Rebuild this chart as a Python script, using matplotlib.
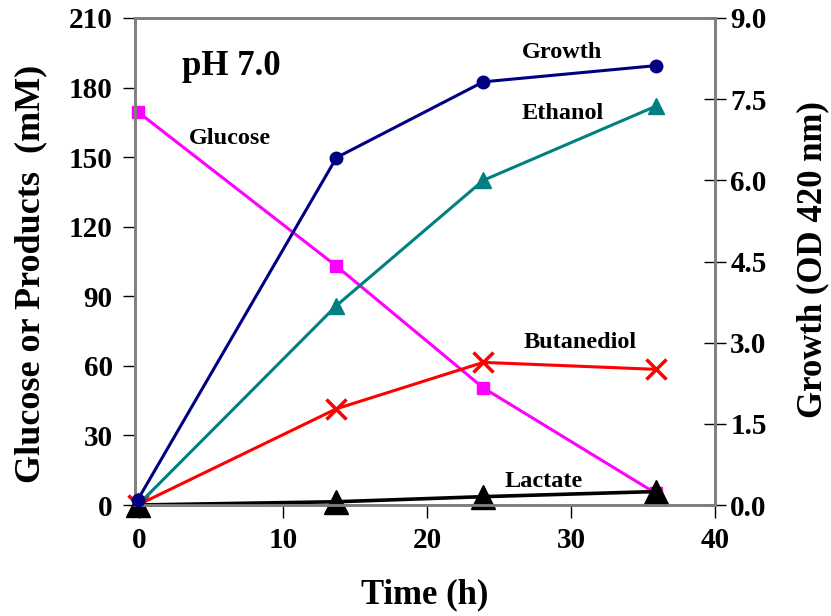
import matplotlib
matplotlib.use("Agg")
import matplotlib.pyplot as plt

time_h = [-0.1, 13.7, 23.9, 35.9]
glucose = [169.5, 103, 50.5, 5]
ethanol = [0, 86, 140, 172]
butanediol = [0, 41.5, 61.5, 58.5]
lactate = [0, 1.4, 3.6, 5.8]
growth_od = [0.1, 6.42, 7.82, 8.12]

left_ticks = [0, 30, 60, 90, 120, 150, 180, 210]
right_ticks = [0.0, 1.5, 3.0, 4.5, 6.0, 7.5, 9.0]
x_ticks = [0, 10, 20, 30, 40]

plt.rcParams['font.family'] = ['Liberation Serif', 'DejaVu Serif']
plt.rcParams['font.weight'] = 'bold'

fig = plt.figure(figsize=(8.31, 6.16), dpi=100)
ax = fig.add_axes([135/831, 1-505/616, 580/831, 487/616])
ax2 = ax.twinx()

spine_col = '#808080'
lw = 2.2

ax.plot(time_h, glucose, color='#FF00FF', lw=lw, marker='s', ms=8, zorder=3, clip_on=False)
ax.plot(time_h, butanediol, color='#FF0000', lw=lw, marker='x', ms=14, mew=2.5, zorder=4, clip_on=False)
ax.plot(time_h, ethanol, color='#008080', lw=lw, marker='^', ms=11, zorder=4, clip_on=False)
ax.plot(time_h, lactate, color='black', lw=2.6, marker='^', ms=17, zorder=4.5, clip_on=False)
ax2.plot(time_h, growth_od, color='#000080', lw=lw, marker='o', ms=9, zorder=5, clip_on=False)

ax.set_xlim(-0.3, 40)
ax.set_ylim(0, 210)
ax2.set_ylim(0, 9)
ax.set_xticks(x_ticks)
ax.set_yticks(left_ticks)
ax2.set_yticks(right_ticks)
ax2.set_yticklabels([f"{v:.1f}" for v in right_ticks])

for a in (ax, ax2):
    for s in a.spines.values():
        s.set_color(spine_col)
        s.set_linewidth(2)

ax.tick_params(axis='x', direction='out', length=9, width=1, labelsize=21, pad=7, colors='black')
ax.tick_params(axis='y', direction='out', length=9, width=1, labelsize=21, pad=7, colors='black')
ax2.tick_params(axis='y', direction='inout', length=16, width=1, labelsize=21, pad=3, colors='black')

for lab in ax.get_xticklabels() + ax.get_yticklabels() + ax2.get_yticklabels():
    lab.set_fontweight('bold')

ax.set_xlabel('Time (h)', fontsize=25, fontweight='bold')
ax.xaxis.set_label_coords(0.5, -0.15)
ax.set_ylabel('Glucose or Products  (mM)', fontsize=26, fontweight='bold')
ax.yaxis.set_label_coords(-0.152, 0.475)
ax2.set_ylabel('Growth (OD 420 nm)', fontsize=25, fontweight='bold')
ax2.yaxis.set_label_coords(1.14, 0.505)

ax.text(3.0, 189, 'pH 7.0', fontsize=25, fontweight='bold', ha='left', va='center')
ax.text(6.3, 158, 'Glucose', fontsize=17.5, fontweight='bold', ha='center', va='center')
ax.text(29.4, 195, 'Growth', fontsize=17.5, fontweight='bold', ha='center', va='center')
ax.text(29.4, 169, 'Ethanol', fontsize=17.5, fontweight='bold', ha='center', va='center')
ax.text(30.6, 70, 'Butanediol', fontsize=17.5, fontweight='bold', ha='center', va='center')
ax.text(28.1, 10, 'Lactate', fontsize=17.5, fontweight='bold', ha='center', va='center')

fig.savefig('out.png', dpi=100)
